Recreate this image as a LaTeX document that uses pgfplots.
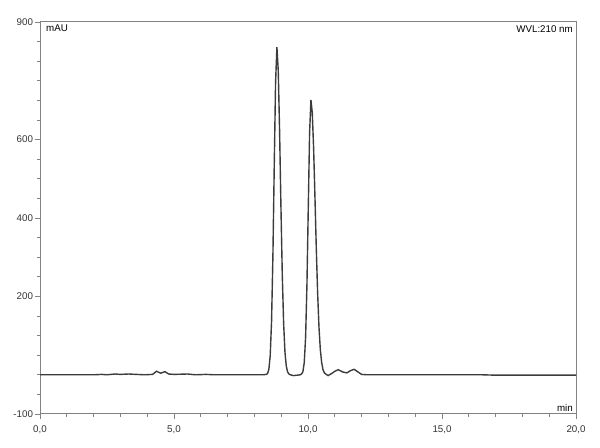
\documentclass[border=0pt]{standalone}
\usepackage{pgfplots}
\pgfplotsset{compat=1.18}
\usepackage{fontspec}
\setmainfont{Liberation Sans}
\definecolor{framegray}{RGB}{130,130,130}
\definecolor{trace}{RGB}{60,60,60}
\begin{document}
\begin{tikzpicture}[x=1bp,y=1bp]
\begin{axis}[
  name=ax,
  scale only axis,
  width=536bp, height=392bp,
  xmin=0, xmax=20, ymin=-100, ymax=900,
  axis line style={framegray, line width=1bp},
  tick pos=left,
  tick align=outside,
  major tick length=5bp,
  minor tick length=3bp,
  every tick/.style={framegray, line width=0.8bp},
  xtick={0,5,10,15,20},
  xticklabels={0{,}0,5{,}0,10{,}0,15{,}0,20{,}0},
  minor xtick={1,2,3,4,6,7,8,9,11,12,13,14,16,17,18,19},
  ytick={-100,200,400,600,900},
  yticklabels={-100,200,400,600,900},
  minor ytick={-50,0,50,100,150,250,300,350,450,500,550,650,700,750,800,850},
  tick label style={font=\fontsize{9.8}{11}\selectfont, text=black!80},
  xticklabel style={yshift=-3bp},
  yticklabel style={xshift=1.5bp},
  clip=false,
]
\addplot[trace, line width=1.4bp] coordinates {
(0,0) (2.0,0) (2.3,1) (2.5,0) (2.8,2) (3.0,1) (3.3,2) (3.6,1) (3.9,0)
(4.2,1) (4.35,9) (4.5,4) (4.66,8) (4.8,2) (5.0,1) (5.5,2) (5.8,0) (6.2,1) (6.5,0)
(8.0,0) (8.3,0) (8.44,1) (8.49,3) (8.54,14) (8.59,49) (8.64,136) (8.69,301)
(8.74,531) (8.79,746) (8.84,836) (8.89,776) (8.94,622) (8.99,430) (9.04,256)
(9.09,132) (9.14,58) (9.19,22) (9.24,7) (9.29,2) (9.34,0) (9.45,-2) (9.6,-1)
(9.71,0) (9.76,2) (9.81,8) (9.86,31) (9.91,95) (9.96,228) (10.01,425) (10.06,619)
(10.11,701) (10.16,668) (10.21,577) (10.26,452) (10.31,321) (10.36,207)
(10.41,121) (10.46,64) (10.51,31) (10.56,13) (10.61,5) (10.66,2) (10.75,-2)
(10.9,4) (11.0,9) (11.13,13) (11.3,7) (11.45,5) (11.6,11) (11.72,14) (11.85,8)
(12.0,1) (12.2,0) (16.5,0) (17,-1) (20,-1)
};
\node[anchor=north west, font=\fontsize{9.8}{11}\selectfont, inner sep=0pt]
  at (rel axis cs:0,1) [xshift=6bp, yshift=-3bp] {mAU};
\node[anchor=north east, font=\fontsize{9.8}{11}\selectfont, inner sep=0pt]
  at (rel axis cs:1,1) [xshift=-3bp, yshift=-3bp] {WVL:210 nm};
\node[anchor=south east, font=\fontsize{9.8}{11}\selectfont, inner sep=0pt]
  at (rel axis cs:1,0) [xshift=-3bp, yshift=2bp] {min};
\end{axis}
\pgfresetboundingbox
\path ([xshift=-40bp,yshift=-34bp]ax.south west) rectangle ([xshift=24bp,yshift=22bp]ax.north east);
\end{tikzpicture}
\end{document}
